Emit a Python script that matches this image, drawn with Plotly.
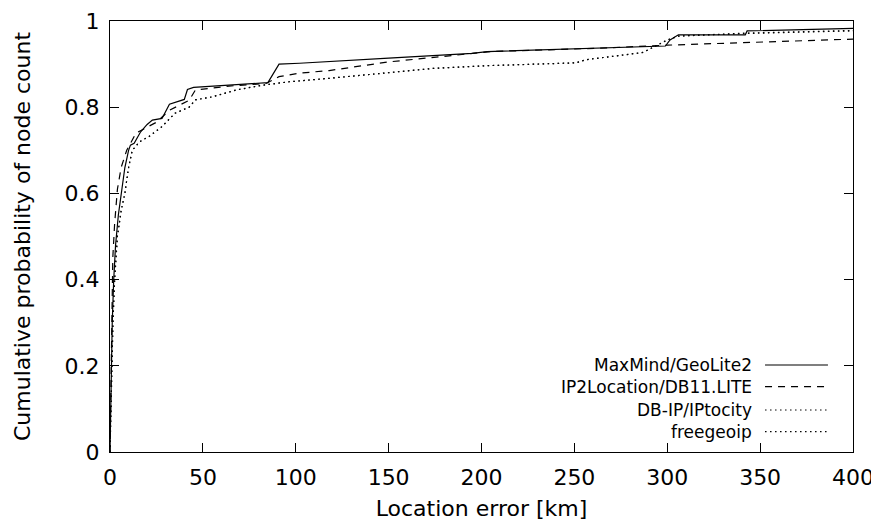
import plotly.graph_objects as go

series_names = ["MaxMind/GeoLite2", "IP2Location/DB11.LITE", "DB-IP/IPtocity", "freegeoip"]

maxmind_x = [0, 0.3, 0.7, 1.2, 2, 3, 4.5, 6, 8, 10, 11, 13, 16.5, 20, 22.8, 28, 30, 32, 40, 41.7, 45,
             85, 91, 102, 150, 195, 203, 264, 299, 301.5, 306, 342, 343, 400]
maxmind_y = [0, 0.1, 0.2, 0.3, 0.4, 0.48, 0.55, 0.6, 0.66, 0.70, 0.712, 0.716, 0.743, 0.76, 0.77, 0.774,
             0.79, 0.807, 0.818, 0.841, 0.846, 0.857, 0.9, 0.902, 0.914, 0.925, 0.929, 0.937, 0.942,
             0.956, 0.968, 0.968, 0.977, 0.983]

ip2loc_x = [0, 0.3, 0.6, 1, 1.5, 2.5, 4, 6, 9, 14, 22, 25, 32, 42.6, 46, 64, 84, 91, 102, 118, 150,
            192, 205, 264, 300, 400]
ip2loc_y = [0, 0.12, 0.25, 0.35, 0.45, 0.53, 0.61, 0.66, 0.70, 0.74, 0.759, 0.765, 0.793, 0.816, 0.84,
            0.849, 0.855, 0.871, 0.879, 0.885, 0.905, 0.923, 0.929, 0.937, 0.944, 0.958]

dbip_x = [0, 0.4, 0.9, 1.6, 2.5, 4, 6, 8, 10, 12, 16, 21, 28, 35, 42.6, 46, 55, 68, 82, 96.5, 118,
          174, 201, 251, 256, 287, 300, 306, 342, 400]
dbip_y = [0, 0.1, 0.2, 0.3, 0.4, 0.5, 0.56, 0.6, 0.66, 0.70, 0.72, 0.732, 0.755, 0.786, 0.80, 0.817,
          0.824, 0.84, 0.851, 0.859, 0.867, 0.89, 0.896, 0.903, 0.91, 0.927, 0.956, 0.965, 0.971, 0.977]

freegeoip_x = [0, 0.4, 0.9, 1.6, 2.5, 4, 6, 8, 10, 12, 16, 21, 28, 35, 42.6, 46, 55, 68, 82, 96.5, 118,
               174, 201, 251, 256, 287, 300, 306, 342, 400]
freegeoip_y = [0, 0.1, 0.2, 0.3, 0.4, 0.5, 0.56, 0.6, 0.66, 0.70, 0.72, 0.732, 0.755, 0.786, 0.80, 0.817,
               0.824, 0.84, 0.851, 0.859, 0.867, 0.89, 0.896, 0.903, 0.91, 0.927, 0.956, 0.965, 0.972, 0.978]

x_ticks = [0, 50, 100, 150, 200, 250, 300, 350, 400]
y_ticks = [0, 0.2, 0.4, 0.6, 0.8, 1]
y_tick_labels = ["0", "0.2", "0.4", "0.6", "0.8", "1"]

dashes = ["solid", "7px,6px", "1.5px,3.5px", "1.5px,3.5px"]
xs = [maxmind_x, ip2loc_x, dbip_x, freegeoip_x]
ys = [maxmind_y, ip2loc_y, dbip_y, freegeoip_y]

FONT = "DejaVu Sans"
fig = go.Figure()
for name, x, y, d in zip(series_names, xs, ys, dashes):
    fig.add_trace(go.Scatter(x=x, y=y, mode="lines", name=name, showlegend=False,
                             line=dict(color="black", width=1.2, dash=d)))

# gnuplot-style legend: right-aligned text, line sample on the right
row_y = [0.2019, 0.1515, 0.0974, 0.0471]
for name, ry, d in zip(series_names, row_y, dashes):
    fig.add_annotation(x=0.8668, y=ry, xref="paper", yref="paper", text=name, showarrow=False,
                       xanchor="right", yanchor="middle", font=dict(family=FONT, size=17, color="black"))
    fig.add_shape(type="line", xref="paper", yref="paper", x0=0.8816, x1=0.9663, y0=ry, y1=ry,
                  line=dict(color="black", width=1.2, dash=d))

axis_common = dict(showgrid=False, zeroline=False, showline=True, linecolor="black", linewidth=1.2,
                   mirror="ticks", ticks="inside", ticklen=9, tickwidth=1, tickcolor="black",
                   ticklabelstandoff=5,
                   tickfont=dict(family=FONT, size=22, color="black"))

fig.update_xaxes(range=[0, 400], tickvals=x_ticks, ticktext=[str(v) for v in x_ticks],
                 title=dict(text="Location error [km]", font=dict(family=FONT, size=22, color="black"), standoff=12),
                 **axis_common)
fig.update_yaxes(range=[0, 1], tickvals=y_ticks, ticktext=y_tick_labels,
                 title=dict(text="Cumulative probability of node count", font=dict(family=FONT, size=22, color="black"), standoff=27),
                 **axis_common)

fig.update_layout(width=879, height=524, margin=dict(l=102, r=34, t=13, b=80, autoexpand=False),
                  plot_bgcolor="white", paper_bgcolor="white", font=dict(family=FONT, color="black"))

fig.write_html("out.html")
